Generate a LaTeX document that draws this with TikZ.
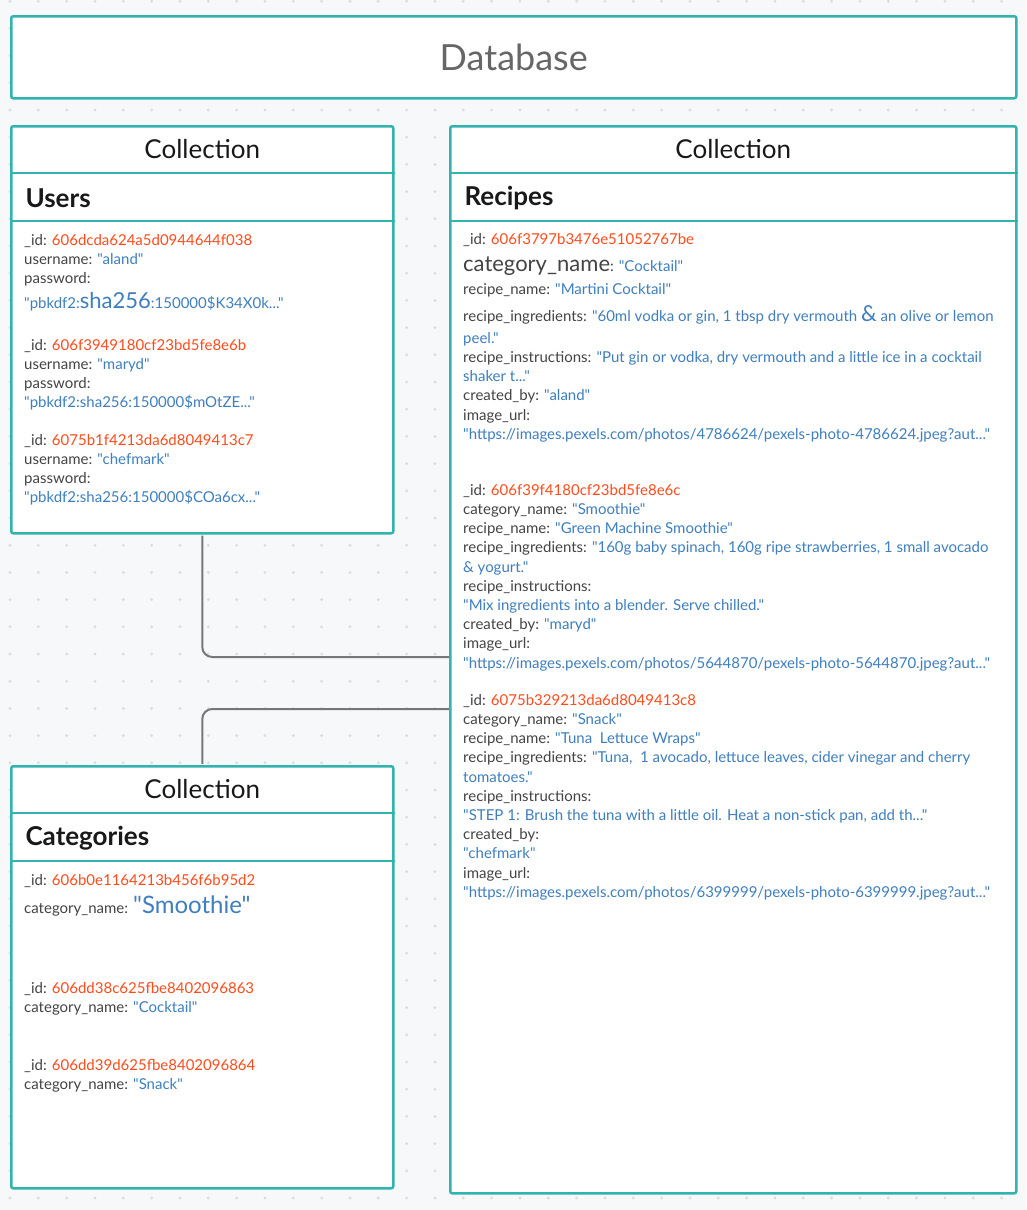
\documentclass[tikz,border=0pt]{standalone}
\usepackage{fontspec}
\setmainfont{Lato}[Ligatures=TeXOff]
\usetikzlibrary{positioning}

\definecolor{dbteal}{HTML}{33B3AD}
\definecolor{keygrey}{HTML}{444444}
\definecolor{valblue}{HTML}{3F7FBF}
\definecolor{idred}{HTML}{FF4C1C}
\definecolor{bgpaper}{HTML}{F7F8FA}
\definecolor{gridgrey}{HTML}{DCDDE2}
\definecolor{wiregrey}{HTML}{777777}

\newcommand{\kv}[2]{\textcolor{keygrey}{#1:} \textcolor{valblue}{#2}}
\newcommand{\oid}[1]{\textcolor{keygrey}{\_id:} \textcolor{idred}{#1}}
\newcommand{\val}[1]{\textcolor{valblue}{#1}}
\newcommand{\bigtxt}[1]{{\fontsize{22}{22}\selectfont #1}}

\begin{document}
\begin{tikzpicture}[
        x=1pt, y=-1pt,
        coll/.style={draw=dbteal, line width=2.5pt, fill=white, rounded corners=2pt, anchor=north west, inner sep=0pt},
        rule/.style={draw=dbteal, line width=2.5pt},
        head/.style={font=\fontsize{26}{30}\selectfont, text=black!90},
        title/.style={font=\fontsize{26}{30}\selectfont\bfseries, anchor=west, text=black!90},
        rec/.style={anchor=north west, align=left, inner sep=0pt, font=\fontsize{15}{19.2}\selectfont, text=keygrey},
        link/.style={draw=wiregrey, line width=2pt, rounded corners=10pt}
    ]
        % paper and dot grid
        \useasboundingbox (0,0) rectangle (1026,1210);
        \fill[bgpaper] (0,0) rectangle (1026,1210);
        \foreach \i in {0,...,35}
            \foreach \j in {-4,...,40}
                \fill[gridgrey] ({10+28.33*\i},{110+27.2*\j}) circle (1.6pt);

        % database banner
        \node[coll, minimum width=1005pt, minimum height=82pt] (db) at (10,15) {};
        \node[font=\fontsize{36}{40}\selectfont, text=black!60] (dbname) at (db.center) {Database};

        % collections
        \node[coll, minimum width=382pt, minimum height=407pt] (users) at (10,125) {};
        \node[coll, minimum width=566pt, minimum height=1067pt] (recipes) at (449,125) {};
        \node[coll, minimum width=382pt, minimum height=422pt] (cats) at (10,765) {};

        \foreach \c in {users, recipes, cats} {
            \draw[rule] ([yshift=-48pt]\c.north west) -- ([yshift=-48pt]\c.north east);
            \draw[rule] ([yshift=-96pt]\c.north west) -- ([yshift=-96pt]\c.north east);
            \node[head] (\c-kind) at ([yshift=-24pt]\c.north) {Collection};
        }
        \node[title] (users-name) at ([xshift=12pt,yshift=-73pt]users.north west) {Users};
        \node[title] (recipes-name) at ([xshift=12pt,yshift=-73pt]recipes.north west) {Recipes};
        \node[title] (cats-name) at ([xshift=12pt,yshift=-73pt]cats.north west) {Categories};

        % users documents
        \node[rec] (u1) at (24,234) {\oid{606dcda624a5d0944644f038}\\
            \kv{username}{"aland"}\\
            password:\\[5.3pt]
            \val{"pbkdf2:\bigtxt{sha256}:150000\$K34X0k..."}};
        \node[rec] (u2) at (24,339) {\oid{606f3949180cf23bd5fe8e6b}\\
            \kv{username}{"maryd"}\\
            password:\\
            \val{"pbkdf2:sha256:150000\$mOtZE..."}};
        \node[rec] (u3) at (24,434) {\oid{6075b1f4213da6d8049413c7}\\
            \kv{username}{"chefmark"}\\
            password:\\
            \val{"pbkdf2:sha256:150000\$COa6cx..."}};

        % recipes documents
        \node[rec] (r1) at (463,233) {\oid{606f3797b3476e51052767be}\\[8.3pt]
            \bigtxt{category\_name}: \val{"Cocktail"}\\[3.3pt]
            \kv{recipe\_name}{"Martini Cocktail"}\\[7.8pt]
            \kv{recipe\_ingredients}{"60ml vodka or gin, 1 tbsp dry vermouth \bigtxt{\&} an olive or lemon}\\[2.8pt]
            \val{peel."}\\
            \kv{recipe\_instructions}{"Put gin or vodka, dry vermouth and a little ice in a cocktail}\\
            \val{shaker t..."}\\
            \kv{created\_by}{"aland"}\\
            image\_url:\\
            \val{"https://images.pexels.com/photos/4786624/pexels-photo-4786624.jpeg?aut..."}};
        \node[rec] (r2) at (463,484) {\oid{606f39f4180cf23bd5fe8e6c}\\
            \kv{category\_name}{"Smoothie"}\\
            \kv{recipe\_name}{"Green Machine Smoothie"}\\
            \kv{recipe\_ingredients}{"160g baby spinach, 160g ripe strawberries, 1 small avocado}\\
            \val{\& yogurt."}\\
            recipe\_instructions:\\
            \val{"Mix ingredients into a blender. Serve chilled."}\\
            \kv{created\_by}{"maryd"}\\
            image\_url:\\
            \val{"https://images.pexels.com/photos/5644870/pexels-photo-5644870.jpeg?aut..."}};
        \node[rec] (r3) at (463,694) {\oid{6075b329213da6d8049413c8}\\
            \kv{category\_name}{"Snack"}\\
            \kv{recipe\_name}{"Tuna\ \ Lettuce Wraps"}\\
            \kv{recipe\_ingredients}{"Tuna,\ \ 1 avocado, lettuce leaves, cider vinegar and cherry}\\
            \val{tomatoes."}\\
            recipe\_instructions:\\
            \val{"STEP 1: Brush the tuna with a little oil. Heat a non-stick pan, add th..."}\\
            created\_by:\\
            \val{"chefmark"}\\
            image\_url:\\
            \val{"https://images.pexels.com/photos/6399999/pexels-photo-6399999.jpeg?aut..."}};

        % categories documents
        \node[rec] (c1) at (24,874) {\oid{606b0e1164213b456f6b95d2}\\[7.3pt]
            category\_name: \val{\fontsize{24}{24}\selectfont"Smoothie"}};
        \node[rec] (c2) at (24,982) {\oid{606dd38c625fbe8402096863}\\
            \kv{category\_name}{"Cocktail"}};
        \node[rec] (c3) at (24,1059) {\oid{606dd39d625fbe8402096864}\\
            \kv{category\_name}{"Snack"}};

        % references
        \coordinate (rin1) at (recipes.west |- 0,657);
        \coordinate (rin2) at (recipes.west |- 0,709);
        \draw[link, shorten <=1.2pt] (users.south) |- (rin1);
        \draw[link, shorten <=1.2pt] (cats.north) |- (rin2);
    \end{tikzpicture}
\end{document}
